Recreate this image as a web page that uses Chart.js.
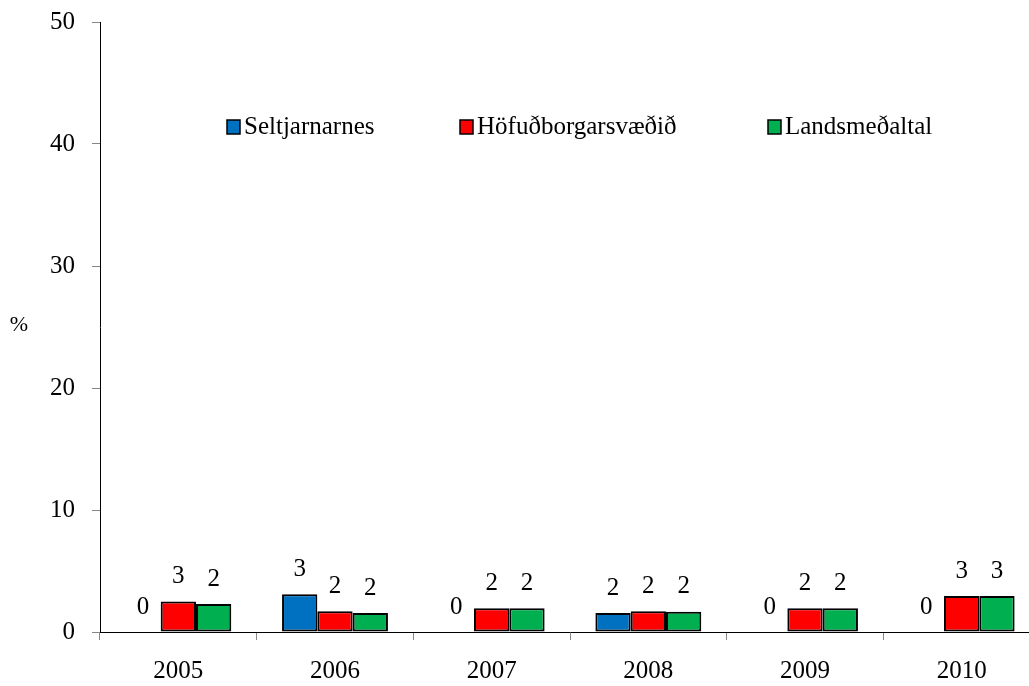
<!DOCTYPE html>
<html>
<head>
<meta charset="utf-8">
<script src="https://cdn.jsdelivr.net/npm/chart.js@4"></script>
<style>
  html, body { margin: 0; padding: 0; overflow: hidden; background: #fff; }
  canvas { display: block; }
</style>
</head>
<body>
<canvas id="chart" width="1040" height="686"></canvas>
<script>
// Dados (%)
const years = ['2005', '2006', '2007', '2008', '2009', '2010'];
const seriesNames = ['Seltjarnarnes', 'Höfuðborgarsvæðið', 'Landsmeðaltal'];
const seltjarnarnes = [0, 3.1, 0, 1.55, 0, 0];
const hofudborg = [2.5, 1.7, 1.95, 1.7, 1.95, 2.95];
const landsmedaltal = [2.3, 1.55, 1.95, 1.65, 1.95, 2.95];
const yTicks = [0, 10, 20, 30, 40, 50];
const colors = ['#0070C0', '#FF0000', '#00B050'];

const FONT = "'Liberation Serif', 'Times New Roman', serif";

// Rótulos de valor acima de cada barra
const valueLabels = {
    id: 'valueLabels',
    afterDatasetsDraw(chart) {
        const ctx = chart.ctx;
        ctx.save();
        ctx.font = '25px ' + FONT;
        ctx.fillStyle = '#000';
        ctx.textAlign = 'center';
        ctx.textBaseline = 'middle';
        chart.data.datasets.forEach((ds, i) => {
            chart.getDatasetMeta(i).data.forEach((bar, j) => {
                ctx.fillText(String(Math.round(ds.data[j])), bar.x, bar.y - 25);
            });
        });
        ctx.restore();
    }
};

// Legenda dentro da área do gráfico e o "%" do eixo y
const extras = {
    id: 'extras',
    afterDraw(chart) {
        const ctx = chart.ctx;
        const area = chart.chartArea;
        ctx.save();
        ctx.font = '22px ' + FONT;
        ctx.textBaseline = 'middle';
        ctx.fillStyle = '#000';
        ctx.textAlign = 'center';
        ctx.fillText('%', 19, 325);

        ctx.font = '25px ' + FONT;
        ctx.textAlign = 'left';
        const xs = [227, 460, 768];
        const yMid = area.top + 105;
        chart.data.datasets.forEach((ds, i) => {
            ctx.fillStyle = ds.backgroundColor;
            ctx.fillRect(xs[i], yMid - 7, 13, 14);
            ctx.strokeStyle = '#000';
            ctx.lineWidth = 1.5;
            ctx.strokeRect(xs[i], yMid - 7, 13, 14);
            ctx.fillStyle = '#000';
            ctx.fillText(ds.label, xs[i] + 17, yMid);
        });
        ctx.restore();
    }
};

const seriesData = [seltjarnarnes, hofudborg, landsmedaltal];

const ctx = document.getElementById('chart').getContext('2d');
const chart = new Chart(ctx, {
    type: 'bar',
    data: {
        labels: years,
        datasets: seriesNames.map((name, i) => ({
            label: name,
            data: seriesData[i],
            backgroundColor: colors[i],
            borderColor: '#000',
            borderWidth: c => (c.raw === 0 ? 0 : 2),
            borderSkipped: false,
            categoryPercentage: 0.676,
            barPercentage: 1
        }))
    },
    options: {
        responsive: false,
        animation: false,
        layout: { padding: { top: 22, right: 0, left: 0, bottom: 0 } },
        plugins: {
            legend: { display: false },
            tooltip: { enabled: false }
        },
        scales: {
            x: {
                grid: {
                    offset: true,
                    drawOnChartArea: false,
                    drawTicks: true,
                    tickLength: 8,
                    color: '#888'
                },
                border: { color: '#000', width: 1 },
                ticks: {
                    color: '#000',
                    font: { family: FONT, size: 25 },
                    padding: 16,
                    maxRotation: 0
                },
                afterFit(scale) {
                    scale.height = 54;
                    scale.paddingLeft = 0;
                    scale.paddingRight = 0;
                }
            },
            y: {
                min: 0,
                max: 50,
                afterBuildTicks(scale) { scale.ticks = yTicks.map(v => ({ value: v })); },
                grid: {
                    drawOnChartArea: false,
                    drawTicks: true,
                    tickLength: 8,
                    color: '#888'
                },
                border: { color: '#000', width: 1 },
                ticks: {
                    color: '#000',
                    font: { family: FONT, size: 25 },
                    padding: 17
                },
                afterFit(scale) {
                    scale.width = 100;
                    scale.paddingTop = 0;
                    scale.paddingBottom = 0;
                }
            }
        }
    },
    plugins: [valueLabels, extras]
});
</script>
</body>
</html>
